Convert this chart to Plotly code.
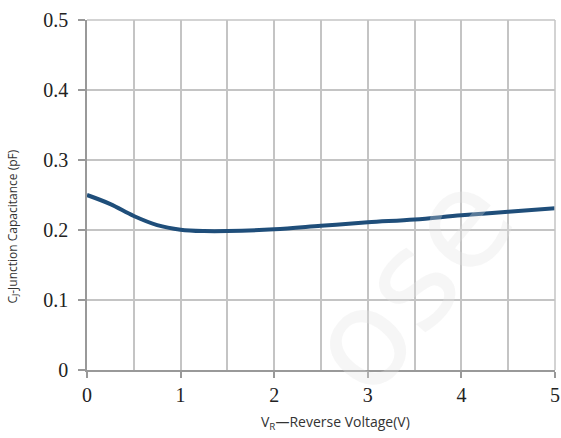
import plotly.graph_objects as go

# Data
vr = [0, 0.25, 0.5, 0.75, 1.0, 1.25, 1.5, 2.0, 2.5, 3.0, 3.5, 4.0, 4.5, 5.0]
cj = [0.250, 0.237, 0.220, 0.207, 0.2005, 0.1985, 0.1985, 0.201, 0.206, 0.211, 0.215, 0.221, 0.226, 0.231]

x_ticks = [0, 1, 2, 3, 4, 5]
y_ticks = [0, 0.1, 0.2, 0.3, 0.4, 0.5]
y_labels = ["0", "0.1", "0.2", "0.3", "0.4", "0.5"]

fig = go.Figure()
fig.add_trace(go.Scatter(
    x=vr, y=cj, mode="lines",
    line=dict(color="#1f4e7a", width=4, shape="spline", smoothing=1.0),
    hoverinfo="skip", showlegend=False,
))

grid_col = "#c4c4c4"
fig.update_xaxes(
    range=[0, 5], tickvals=x_ticks, ticktext=[str(v) for v in x_ticks],
    showgrid=True, gridcolor=grid_col, gridwidth=1.5,
    minor=dict(dtick=0.5, tick0=0, showgrid=True, gridcolor=grid_col, gridwidth=1.5),
    ticks="outside", ticklen=6, tickcolor="#999999", tickwidth=1.5,
    showline=True, linecolor="#999999", linewidth=1.5,
    tickfont=dict(family="Liberation Serif", size=20, color="#222222"),
    zeroline=False, fixedrange=True, automargin=False,
)
fig.update_yaxes(
    range=[0, 0.5], tickvals=y_ticks, ticktext=y_labels,
    showgrid=True, gridcolor=grid_col, gridwidth=1.5,
    ticks="outside", ticklen=7, tickcolor="#999999", tickwidth=1.5,
    showline=True, linecolor="#999999", linewidth=1.5,
    tickfont=dict(family="Liberation Serif", size=20, color="#222222"),
    ticklabelstandoff=6,
    zeroline=False, fixedrange=True, automargin=False,
)
# top/right borders as grid-like lines
fig.add_shape(type="line", xref="paper", yref="paper", x0=0, x1=1, y0=1, y1=1,
              line=dict(color=grid_col, width=1.5))
fig.add_shape(type="line", xref="paper", yref="paper", x0=1, x1=1, y0=0, y1=1,
              line=dict(color=grid_col, width=1.5))

fig.update_layout(
    width=561, height=438,
    margin=dict(l=87, r=6, t=20, b=68),
    paper_bgcolor="white", plot_bgcolor="white",
    annotations=[
        dict(text="C<sub>J</sub>-Junction Capacitance (pF)", xref="paper", yref="paper",
             x=-0.16, y=0.41, textangle=-90, showarrow=False,
             font=dict(family="Open Sans", size=12, color="#333333"),
             xanchor="center", yanchor="middle"),
        dict(text="V<sub>R</sub>—Reverse Voltage(V)", xref="paper", yref="paper",
             x=0.53, y=-0.149, showarrow=False,
             font=dict(family="Open Sans", size=14, color="#333333"),
             xanchor="center", yanchor="middle"),
        dict(text="ose", xref="paper", yref="paper", x=0.69, y=0.25, showarrow=False,
             textangle=-50, font=dict(family="DejaVu Sans", size=135, color="rgba(225,225,225,0.3)"),
             xanchor="center", yanchor="middle"),
    ],
)

fig.write_html("out.html")
